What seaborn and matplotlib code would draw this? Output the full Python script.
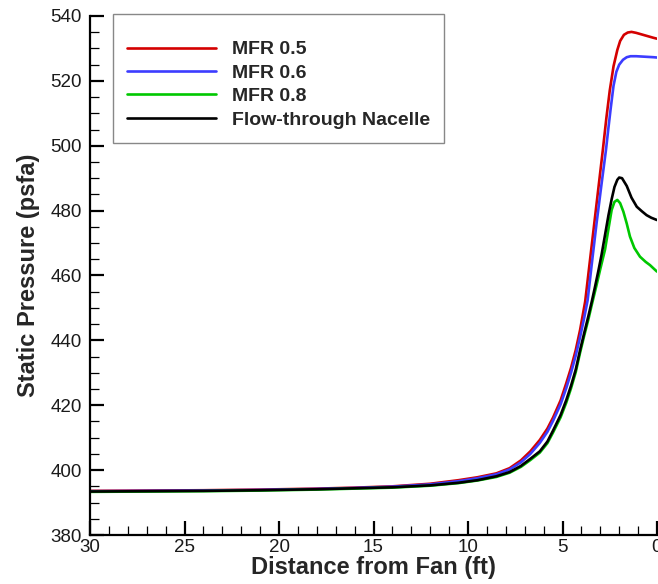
import matplotlib
matplotlib.use("Agg")
import matplotlib.pyplot as plt
import seaborn as sns
import pandas as pd
from matplotlib.ticker import MultipleLocator

# ---- data ----
series_names = ["MFR 0.5", "MFR 0.6", "MFR 0.8", "Flow-through Nacelle"]
series_colors = ["#d40000", "#3c3cff", "#00c800", "#000000"]

red_dist = [30, 27, 24, 21, 18, 16, 14, 12, 10.5, 9.5, 8.5, 7.8, 7.2, 6.7, 6.2, 5.8, 5.5, 5.1, 4.8,
            4.55, 4.3, 4.07, 3.8, 3.55, 3.3, 3.05, 2.86, 2.68, 2.5, 2.3, 2.1, 1.95, 1.75, 1.55, 1.35,
            1.1, 0.8, 0.5, 0.2, 0.0]
red_psfa = [393.6, 393.7, 393.8, 394.0, 394.3, 394.6, 395.0, 395.8, 396.9, 397.8, 399.0, 400.6,
            403.0, 405.8, 409.3, 412.8, 416.2, 421.5, 426.8, 431.5, 437.0, 443.2, 452.0, 464.5,
            477.0, 489.5, 499.0, 508.5, 517.0, 524.5, 529.5, 532.3, 534.2, 534.9, 535.1, 534.8,
            534.3, 533.8, 533.3, 533.0]

blue_dist = [30, 27, 24, 21, 18, 16, 14, 12, 10.5, 9.5, 8.5, 7.8, 7.2, 6.7, 6.2, 5.8, 5.5, 5.1, 4.8,
             4.55, 4.3, 4.07, 3.85, 3.67, 3.45, 3.2, 2.95, 2.7, 2.57, 2.45, 2.3, 2.15, 2.0, 1.8, 1.6,
             1.4, 1.1, 0.8, 0.5, 0.2, 0.0]
blue_psfa = [393.5, 393.6, 393.7, 393.9, 394.2, 394.5, 394.9, 395.6, 396.6, 397.5, 398.7, 400.2,
             402.4, 405.0, 408.4, 411.8, 415.2, 420.3, 425.3, 430.0, 435.3, 441.0, 447.0, 452.4,
             463.6, 476.0, 487.5, 498.7, 505.5, 511.5, 518.5, 522.8, 525.0, 526.5, 527.3, 527.6,
             527.6, 527.5, 527.4, 527.3, 527.2]

green_dist = [30, 27, 24, 21, 18, 16, 14, 12, 10.5, 9.5, 8.5, 7.8, 7.2, 6.7, 6.2, 5.8, 5.5, 5.1, 4.8,
              4.55, 4.3, 4.07, 3.85, 3.63, 3.45, 3.2, 3.0, 2.75, 2.55, 2.4, 2.25, 2.1, 1.95, 1.78,
              1.6, 1.43, 1.2, 0.9, 0.6, 0.37, 0.15, 0.0]
green_psfa = [393.3, 393.4, 393.5, 393.7, 394.0, 394.3, 394.6, 395.2, 396.0, 396.8, 397.9, 399.2,
              401.0, 403.1, 405.4, 408.3, 411.6, 416.3, 420.8, 425.2, 430.2, 436.2, 441.5, 446.5,
              451.0, 457.0, 462.0, 468.0, 475.0, 480.2, 482.7, 483.3, 482.3, 479.7, 476.0, 472.0,
              468.5, 465.8, 464.2, 463.2, 462.0, 461.2]

black_dist = [30, 27, 24, 21, 18, 16, 14, 12, 10.5, 9.5, 8.5, 7.8, 7.2, 6.7, 6.2, 5.8, 5.5, 5.1, 4.8,
              4.55, 4.3, 4.07, 3.85, 3.63, 3.45, 3.28, 3.1, 2.93, 2.75, 2.57, 2.4, 2.25, 2.1, 2.0,
              1.85, 1.6, 1.35, 1.07, 0.8, 0.55, 0.3, 0.0]
black_psfa = [393.4, 393.5, 393.6, 393.8, 394.1, 394.4, 394.7, 395.3, 396.1, 396.9, 398.1, 399.4,
              401.3, 403.5, 405.8, 408.8, 412.2, 417.0, 421.6, 426.0, 431.0, 437.0, 442.3, 447.5,
              452.0, 456.5, 461.5, 466.5, 472.5, 478.5, 483.5, 487.3, 489.5, 490.2, 490.0, 487.6,
              484.0, 481.2, 479.8, 478.6, 477.8, 477.1]

x_ticks = [30, 25, 20, 15, 10, 5, 0]
y_ticks = [380, 400, 420, 440, 460, 480, 500, 520, 540]

frames = []
for name, d, p in zip(series_names,
                      [red_dist, blue_dist, green_dist, black_dist],
                      [red_psfa, blue_psfa, green_psfa, black_psfa]):
    frames.append(pd.DataFrame({"dist": d, "psfa": p, "series": name}))
df = pd.concat(frames, ignore_index=True)

sns.set_theme(style="white")
plt.rcParams["font.family"] = ["Liberation Sans", "DejaVu Sans"]

fig = plt.figure(figsize=(6.58, 5.84), dpi=100)
ax = fig.add_axes([90 / 658, 49 / 584, 567 / 658, 519 / 584])

sns.lineplot(data=df, x="dist", y="psfa", hue="series", hue_order=series_names,
             palette=dict(zip(series_names, series_colors)), estimator=None,
             linewidth=1.9, ax=ax, legend=True)

ax.set_xlim(30, 0)
ax.set_ylim(380, 540)
ax.set_xticks(x_ticks)
ax.set_yticks(y_ticks)
ax.xaxis.set_minor_locator(MultipleLocator(1))
ax.yaxis.set_minor_locator(MultipleLocator(5))

for s in ["top", "right"]:
    ax.spines[s].set_visible(False)
for s in ["left", "bottom"]:
    ax.spines[s].set_color("black")
    ax.spines[s].set_linewidth(1.6)

ax.tick_params(axis="both", which="major", direction="in", length=10, width=1.6,
               color="black", labelsize=13.5, labelcolor="#1a1a1a")
ax.tick_params(axis="both", which="minor", direction="in", length=6.5, width=0.9, color="black")
ax.tick_params(axis="y", which="major", pad=6)
ax.tick_params(axis="x", which="major", pad=3)
ax.tick_params(axis="x", which="both", bottom=True)
ax.tick_params(axis="y", which="both", left=True)

ax.set_xlabel("Distance from Fan (ft)", fontsize=17, fontweight="bold", labelpad=0)
ax.set_ylabel("Static Pressure (psfa)", fontsize=17, fontweight="bold", labelpad=7)

leg = ax.legend(loc="upper left", bbox_to_anchor=(23 / 567, 1.004), borderaxespad=0,
                frameon=True, fancybox=False, edgecolor="#888888", framealpha=1,
                handlelength=4.6, handletextpad=0.8, labelspacing=0.3, borderpad=0.72,
                title=" ", title_fontsize=5,
                prop={"weight": "bold", "size": 14})
leg.get_frame().set_linewidth(1.0)
for line in leg.get_lines():
    line.set_linewidth(1.9)

fig.savefig("out.png", dpi=100)
